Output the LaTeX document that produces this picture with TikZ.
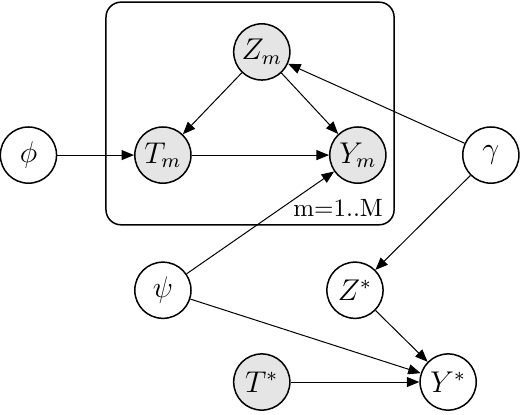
\documentclass[tikz,border=0pt]{standalone}
\usetikzlibrary{arrows.meta}
\begin{document}
\begin{tikzpicture}[
		latent/.style={circle, draw, semithick, minimum size=0.79cm, inner sep=0pt, font=\large},
		obs/.style={latent, fill=gray!20},
		edge/.style={-{Triangle[length=5pt, width=4pt]}, thin}]
	\useasboundingbox (0, 0) rectangle (7.31, -5.82);
	% plate
	\draw[semithick, rounded corners=6pt] (1.49, -0.03) rectangle (5.54, -3.16);
	\node[anchor=south east, inner sep=2pt] (plate) at (5.46, -3.12) {m=1..M};
	% nodes
	\node[obs] (Zm) at (3.68, -0.73) {$Z_m$};
	\node[obs] (Tm) at (2.29, -2.18) {$T_m$};
	\node[obs] (Ym) at (5.03, -2.18) {$Y_m$};
	\node[latent] (phi) at (0.40, -2.18) {$\phi$};
	\node[latent] (gamma) at (6.90, -2.18) {$\gamma$};
	\node[latent] (psi) at (2.29, -4.08) {$\psi$};
	\node[latent] (Zs) at (4.99, -4.08) {$Z^*$};
	\node[obs] (Ts) at (3.68, -5.37) {$T^*$};
	\node[latent] (Ys) at (6.30, -5.37) {$Y^*$};
	% edges
	\foreach \a/\b in {phi/Tm, Zm/Tm, Zm/Ym, Tm/Ym, psi/Ym, gamma/Zm, gamma/Zs, psi/Ys, Zs/Ys, Ts/Ys}
		\draw[edge] (\a) -- (\b);
\end{tikzpicture}
\end{document}
